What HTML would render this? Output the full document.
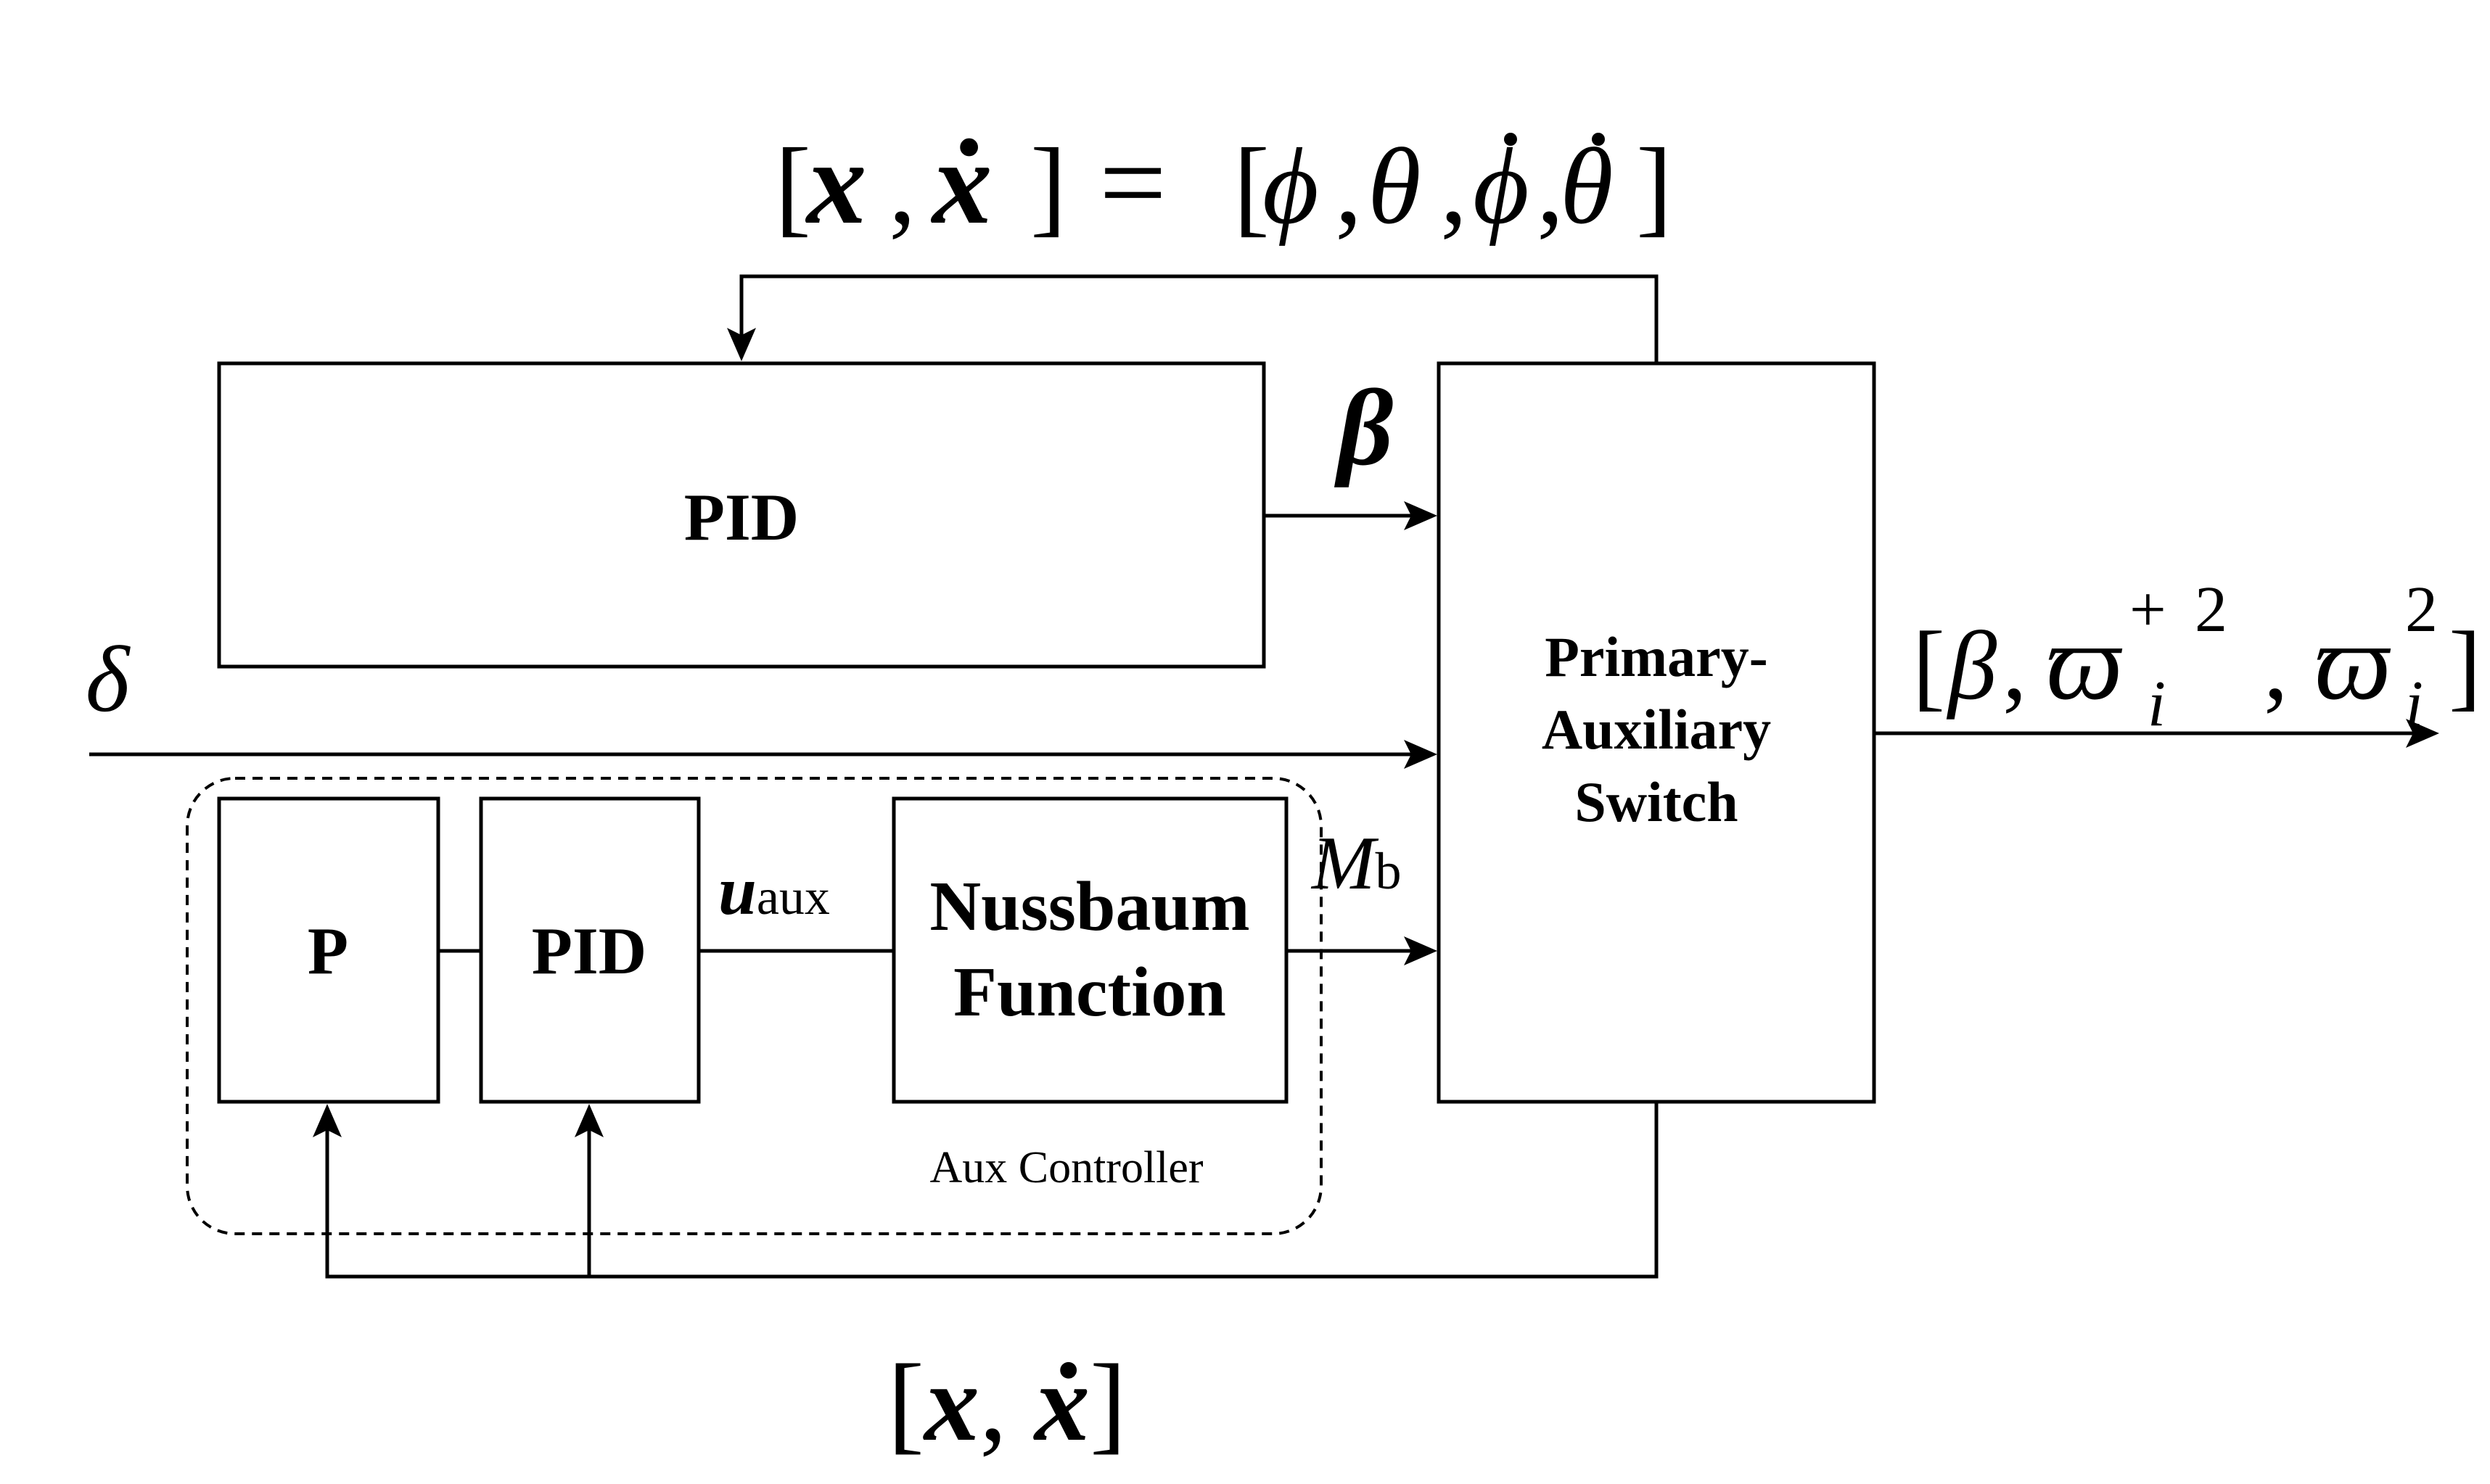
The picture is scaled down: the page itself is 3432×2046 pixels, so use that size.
<!DOCTYPE html>
<html><head><meta charset="utf-8"><style>
html,body{margin:0;padding:0;background:#fff}
svg{display:block}
text{font-family:"Liberation Serif","DejaVu Serif",serif;fill:#000}
</style></head><body>
<svg width="3432" height="2046" viewBox="0 0 3432 2046" xmlns="http://www.w3.org/2000/svg">
<g fill="none" stroke="#000" stroke-width="5">
<rect x="302" y="501" width="1440" height="418"/>
<rect x="1983" y="501" width="600" height="1018"/>
<rect x="302" y="1101" width="302" height="418"/>
<rect x="663" y="1101" width="300" height="418"/>
<rect x="1232" y="1101" width="541" height="418"/>
<rect x="258" y="1073" width="1563" height="628" rx="66" stroke-dasharray="14,10" stroke-width="4"/>
<polyline points="2283,501 2283,381 1022,381 1022,470"/>
<line x1="1742" y1="711" x2="1950" y2="711"/>
<line x1="123" y1="1040" x2="1950" y2="1040"/>
<line x1="604" y1="1311" x2="663" y2="1311"/>
<line x1="963" y1="1311" x2="1232" y2="1311"/>
<line x1="1773" y1="1311" x2="1950" y2="1311"/>
<polyline points="2283,1519 2283,1760 451,1760 451,1550"/>
<line x1="812" y1="1760" x2="812" y2="1550"/>
<line x1="2583" y1="1011" x2="3330" y2="1011"/>
</g>
<g fill="#000">
<polygon points="1022,498 1002,452 1022,462 1042,452"/>
<polygon points="1981,711 1935,691 1945,711 1935,731"/>
<polygon points="1981,1040 1935,1020 1945,1040 1935,1060"/>
<polygon points="1981,1311 1935,1291 1945,1311 1935,1331"/>
<polygon points="3362,1011 3316,991 3326,1011 3316,1031"/>
<polygon points="451,1522 431,1568 451,1558 471,1568"/>
<polygon points="812,1522 792,1568 812,1558 832,1568"/>
</g>
<g font-weight="bold" text-anchor="middle">
<text x="1022" y="744" font-size="92">PID</text>
<text x="452" y="1342" font-size="92">P</text>
<text x="812" y="1342" font-size="92">PID</text>
<text x="1502" y="1282" font-size="98">Nussbaum</text>
<text x="1502" y="1400" font-size="98">Function</text>
<text x="2283" y="932" font-size="78">Primary-</text>
<text x="2283" y="1032" font-size="78">Auxiliary</text>
<text x="2283" y="1132" font-size="78">Switch</text>
</g>
<text x="1470" y="1630" font-size="62" text-anchor="middle">Aux Controller</text>
<g font-size="150">
<text x="1068" y="307">[</text>
<text x="1112" y="307" font-size="165" font-weight="bold" font-style="italic">x</text>
<text x="1225" y="307">,</text>
<text x="1285" y="307" font-size="165" font-weight="bold" font-style="italic">ẋ</text>
<text x="1420" y="307">]</text>
<text x="1515" y="307" font-size="165">=</text>
<text x="1700" y="307">[</text>
<text x="1740" y="307" font-style="italic">ϕ</text>
<text x="1840" y="307">,</text>
<text x="1885" y="307" font-style="italic">θ</text>
<text x="1985" y="307">,</text>
<text x="2030" y="307" font-style="italic">ϕ</text>
<text x="2118" y="307">,</text>
<text x="2150" y="307" font-style="italic">θ</text>
<text x="2255" y="307">]</text>
</g>
<circle cx="2082" cy="192" r="9" fill="#000"/>
<circle cx="2203" cy="192" r="9" fill="#000"/>
<text x="1388" y="1985" font-size="152" text-anchor="middle">[<tspan font-weight="bold" font-style="italic">x</tspan>, <tspan font-weight="bold" font-style="italic">ẋ</tspan>]</text>
<text x="1882" y="640" font-size="150" font-weight="bold" font-style="italic" text-anchor="middle">β</text>
<text x="148" y="980" font-size="130" font-style="italic" text-anchor="middle">δ</text>
<g font-size="135">
<text x="2636" y="963">[</text>
<text x="2685" y="963" font-style="italic">β</text>
<text x="2760" y="963">,</text>
<text x="2820" y="963" font-size="150" font-style="italic">ϖ</text>
<text x="2935" y="870" font-size="90">+</text>
<text x="3025" y="870" font-size="90">2</text>
<text x="2960" y="1000" font-size="90" font-style="italic">i</text>
<text x="3120" y="963">,</text>
<text x="3190" y="963" font-size="150" font-style="italic">ϖ</text>
<text x="3315" y="870" font-size="90">2</text>
<text x="3315" y="1000" font-size="90" font-style="italic">i</text>
<text x="3375" y="963">]</text>
</g>
<text x="990" y="1260" font-size="95"><tspan font-weight="bold" font-style="italic">u</tspan><tspan font-size="70">aux</tspan></text>
<text x="1808" y="1225" font-size="105"><tspan font-style="italic">M</tspan><tspan font-size="72">b</tspan></text>
</svg>
</body></html>
